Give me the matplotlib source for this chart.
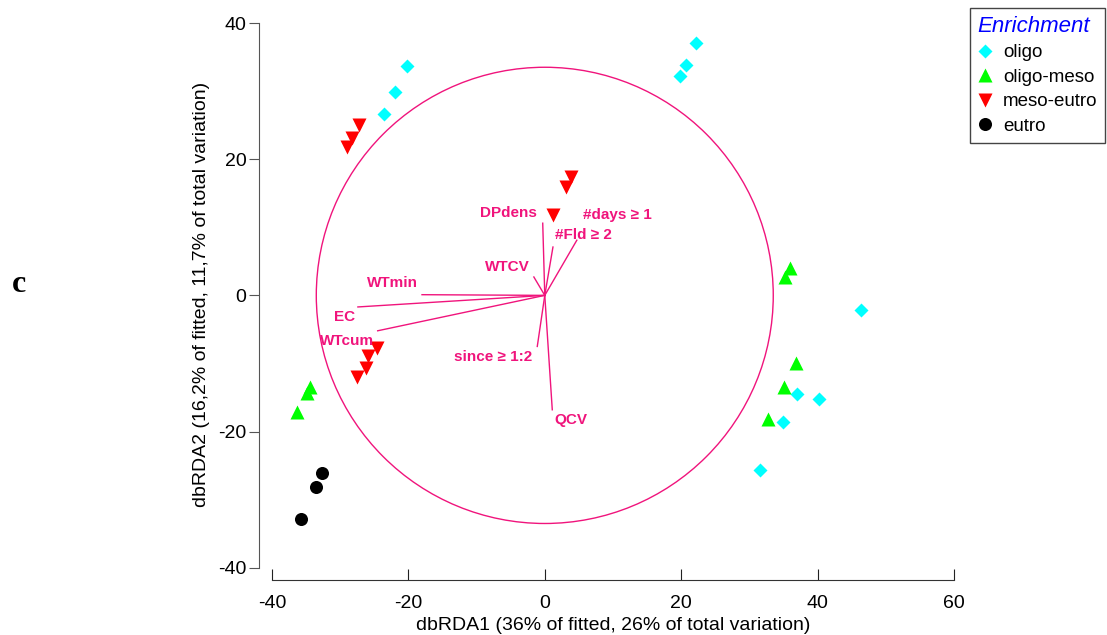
import numpy as np
import matplotlib.pyplot as plt
from matplotlib.patches import Circle
from matplotlib.lines import Line2D

plt.rcParams['font.family'] = ['Liberation Sans', 'DejaVu Sans']
plt.rcParams['axes.unicode_minus'] = False

# sample scores (dbRDA1, dbRDA2) per enrichment class
oligo_x = [-23.6, -22.0, -20.2, 19.8, 20.7, 22.2, 46.4, 37.0, 40.2, 34.9, 31.6]
oligo_y = [26.7, 29.9, 33.7, 32.2, 33.8, 37.1, -2.1, -14.5, -15.2, -18.6, -25.6]
olme_x = [35.9, 35.2, 36.9, 35.1, 32.7, -34.4, -34.8, -36.3]
olme_y = [4.0, 2.7, -9.9, -13.4, -18.2, -13.5, -14.4, -17.1]
meeu_x = [-27.2, -28.3, -29.0, 3.8, 3.1, 1.2, -24.6, -25.9, -26.2, -27.5]
meeu_y = [25.0, 23.1, 21.8, 17.4, 15.9, 11.8, -7.8, -8.9, -10.6, -12.0]
eutro_x = [-32.7, -33.5, -35.7]
eutro_y = [-26.1, -28.2, -32.8]

# predictor vectors
vec_names = ['DPdens', '#days ≥ 1', '#Fld ≥ 2', 'WTCV', 'WTmin', 'EC', 'WTcum', 'since ≥ 1:2', 'QCV']
vec_x = [-0.3, 4.7, 1.2, -1.6, -18.0, -27.4, -24.5, -1.1, 1.1]
vec_y = [10.6, 8.1, 7.1, 2.7, 0.1, -1.7, -5.2, -7.5, -16.8]
lab_x = [-5.4, 10.6, 5.6, -5.5, -22.3, -29.4, -29.0, -7.6, 3.9]
lab_y = [12.1, 11.8, 8.9, 4.2, 1.8, -3.2, -6.7, -9.0, -18.3]

pink = '#f0147c'

fig = plt.figure(figsize=(11.07, 6.35), dpi=100)
ax = fig.add_axes([259/1107, 1-580/635, (954-259)/1107, (580-23)/635])
ax.set_xlim(-41.9, 60)
ax.set_ylim(-41.8, 40)

ax.add_patch(Circle((0, 0), 33.5, fill=False, ec=pink, lw=1.0))
for i in range(len(vec_names)):
    ax.plot([0, vec_x[i]], [0, vec_y[i]], color=pink, lw=1.0)
    ax.text(lab_x[i], lab_y[i], vec_names[i], color=pink, fontsize=11, fontweight='bold',
            ha='center', va='center')

ax.plot(oligo_x, oligo_y, 'D', color='#00ffff', ms=7.6, mec='none', ls='none')
ax.plot(olme_x, olme_y, '^', color='#00ff00', ms=10.5, mec='none', ls='none')
ax.plot(meeu_x, meeu_y, 'v', color='#ff0000', ms=10.5, mec='none', ls='none')
ax.plot(eutro_x, eutro_y, 'o', color='black', ms=9.4, mec='none', ls='none')

for s in ['top', 'right']:
    ax.spines[s].set_visible(False)
ax.spines['left'].set_bounds(-40, 40)
ax.spines['bottom'].set_bounds(-40, 60)
ax.spines['left'].set_color('#555555')
ax.spines['bottom'].set_color('#333333')
ax.set_xticks([-40, -20, 0, 20, 40, 60])
ax.set_yticks([-40, -20, 0, 20, 40])
ax.tick_params(axis='x', direction='in', length=8, labelsize=14, pad=11, color='#222222')
ax.tick_params(axis='y', direction='out', length=7, labelsize=14, pad=2, color='#555555')

fig.text(613/1107, 1-625/635, 'dbRDA1 (36% of fitted, 26% of total variation)', fontsize=14,
         ha='center', va='center')
fig.text(201/1107, 1-294/635, 'dbRDA2 (16,2% of fitted, 11,7% of total variation)', fontsize=14,
         ha='center', va='center', rotation=90)
fig.text(19/1107, 1-284/635, 'c', fontsize=23, family='Liberation Serif', fontweight='bold',
         ha='center', va='center')

handles = [
    Line2D([], [], marker='D', color='#00ffff', ms=7.6, mec='none', ls='none'),
    Line2D([], [], marker='^', color='#00ff00', ms=10.5, mec='none', ls='none'),
    Line2D([], [], marker='v', color='#ff0000', ms=10.5, mec='none', ls='none'),
    Line2D([], [], marker='o', color='black', ms=9.4, mec='none', ls='none'),
]
leg = fig.legend(handles, ['oligo', 'oligo-meso', 'meso-eutro', 'eutro'], title='Enrichment',
                 loc='upper right', bbox_to_anchor=(1105/1107, 1-8/635), fontsize=13.5,
                 title_fontsize=16, fancybox=False, edgecolor='#444444', framealpha=1,
                 borderaxespad=0, handlelength=0.8, handletextpad=0.55, labelspacing=0.4,
                 borderpad=0.4, alignment='left')
leg.get_title().set_color('#0000ff')
leg.get_title().set_style('italic')
leg.get_frame().set_linewidth(1.0)

fig.savefig('out.png', dpi=100)
